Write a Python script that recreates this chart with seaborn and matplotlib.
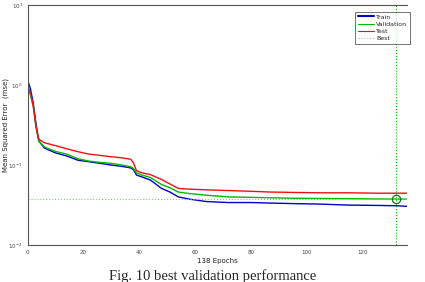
import numpy as np
import pandas as pd
import matplotlib
matplotlib.use("Agg")
import matplotlib.pyplot as plt
import seaborn as sns

epochs = [0, 1, 2, 3, 4, 6, 10, 14, 18, 22, 26, 30, 34, 37, 38, 39, 41, 44, 48, 51,
          54, 58, 64, 72, 80, 87, 95, 105, 115, 125, 132, 136]
train = [1.15, 0.9, 0.6, 0.33, 0.2, 0.163, 0.142, 0.13, 0.115, 0.11, 0.105, 0.1, 0.096,
         0.092, 0.087, 0.075, 0.071, 0.065, 0.051, 0.046, 0.04, 0.0375, 0.035, 0.034,
         0.034, 0.0335, 0.033, 0.0325, 0.0316, 0.0313, 0.031, 0.0305]
validation = [1.0, 0.75, 0.55, 0.3, 0.2, 0.168, 0.148, 0.137, 0.12, 0.112, 0.108, 0.105,
              0.1, 0.095, 0.09, 0.08, 0.075, 0.07, 0.057, 0.052, 0.046, 0.044, 0.042,
              0.04, 0.0395, 0.039, 0.0385, 0.0382, 0.038, 0.0377, 0.0375, 0.0375]
test = [0.95, 0.8, 0.55, 0.3, 0.21, 0.19, 0.175, 0.16, 0.147, 0.137, 0.132, 0.127, 0.123,
        0.118, 0.105, 0.085, 0.08, 0.076, 0.066, 0.058, 0.051, 0.05, 0.049, 0.048, 0.047,
        0.046, 0.0455, 0.045, 0.045, 0.0445, 0.0445, 0.0445]
best_epoch = 132
best_value = 0.0375
n_epochs = 138

df = pd.DataFrame({"epoch": epochs, "Train": train, "Validation": validation, "Test": test})
long = df.melt(id_vars="epoch", var_name="set", value_name="mse")

sns.set_style("white")
plt.rcParams["font.family"] = ["DejaVu Sans"]

fig = plt.figure(figsize=(4.25, 2.82), dpi=100)
ax = fig.add_axes([0.065, 0.131, 0.893, 0.851])

sns.lineplot(data=long, x="epoch", y="mse", hue="set",
             palette={"Train": "#0000cc", "Validation": "#00bb00", "Test": "#ee1111"},
             linewidth=1.0, legend=False, ax=ax)

ax.axhline(best_value, color="#99bb99", linestyle=":", linewidth=0.8)
ax.axvline(best_epoch, color="#00bb00", linestyle=":", linewidth=0.8)
ax.plot([best_epoch], [best_value], marker="o", markersize=6, markerfacecolor="none",
        markeredgecolor="#117711", markeredgewidth=0.9)

ax.set_yscale("log")
ax.set_ylim(1e-2, 1e1)
ax.set_xlim(0, 136)
ax.set_xticks([0, 20, 40, 60, 80, 100, 120])
ax.tick_params(axis="both", which="both", direction="in", labelsize=4, colors="#444444",
               length=2.5, width=0.5)
ax.tick_params(axis="y", which="minor", length=1.5)
for s in ["left", "bottom", "top"]:
    ax.spines[s].set_color("#555555")
    ax.spines[s].set_linewidth(0.8)
ax.spines["right"].set_visible(False)

ax.set_xlabel(f"{n_epochs} Epochs", fontsize=5, labelpad=2, color="#222222")
ax.set_ylabel("Mean Squared Error  (mse)", fontsize=5, color="#222222")
ax.yaxis.set_label_coords(-0.048, 0.5)

handles = [
    plt.Line2D([], [], color="#0000cc", linewidth=1.5),
    plt.Line2D([], [], color="#00bb00", linewidth=0.8),
    plt.Line2D([], [], color="#ee1111", linewidth=0.8),
    plt.Line2D([], [], color="#aaaaaa", linewidth=0.8, linestyle=":"),
]
leg = ax.legend(handles, ["Train", "Validation", "Test", "Best"], loc="upper right",
                bbox_to_anchor=(1.015, 0.985), fontsize=4.5, frameon=True, fancybox=False,
                handlelength=2.5, borderpad=0.4, labelspacing=0.3, handletextpad=0.4)
leg.get_frame().set_edgecolor("#333333")
leg.get_frame().set_linewidth(0.6)

fig.text(0.5, 1 - 276 / 282, "Fig. 10 best validation performance", ha="center",
         va="center", fontsize=10.5, family=["Liberation Serif", "DejaVu Serif"])

fig.savefig("out.png", dpi=100)
